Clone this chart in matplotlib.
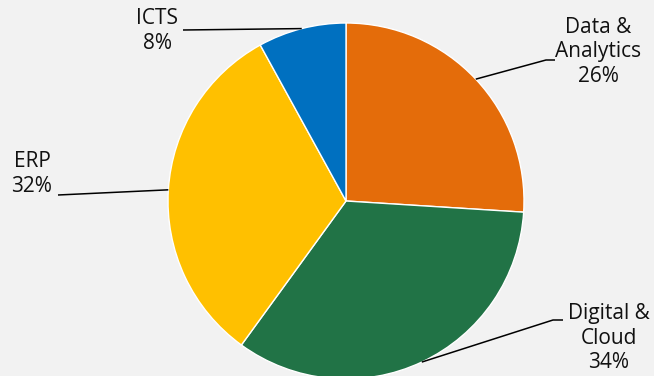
import numpy as np
import matplotlib
matplotlib.use('Agg')
import matplotlib.pyplot as plt

plt.rcParams['font.family'] = ['Open Sans', 'DejaVu Sans']

# data
labels = ['Data &\nAnalytics', 'Digital &\nCloud', 'ERP', 'ICTS']
shares = [26, 34, 32, 8]
colors = ['#E46C0A', '#217346', '#FFC000', '#0070C0']

# layout (pixel space, y up)
W, H = 654, 376
center = (346, H - 201)
radius = 178
# text centre, elbow point (None = straight line to text)
label_pos = [(598, H - 52), (609, H - 338), (32, H - 174), (157, H - 31)]
elbows = [(546, H - 60), (553, H - 320), None, None]
line_ends = [(555, H - 60), (563, H - 320), (58, H - 195), (183, H - 30)]

fig = plt.figure(figsize=(W / 100, H / 100), dpi=100, facecolor='#F2F2F2')
ax = fig.add_axes([0, 0, 1, 1])
ax.set_facecolor('#F2F2F2')

wedges, _ = ax.pie(shares, colors=colors, startangle=90, counterclock=False,
                   center=center, radius=radius, frame=True,
                   wedgeprops=dict(edgecolor='white', linewidth=1))
ax.set_xlim(0, W)
ax.set_ylim(0, H)
ax.set_aspect('equal')
ax.axis('off')

total = sum(shares)
for w, lab, s, tp, el, le in zip(wedges, labels, shares, label_pos, elbows, line_ends):
    mid = np.deg2rad((w.theta1 + w.theta2) / 2)
    ax0 = center[0] + radius * np.cos(mid)
    ay0 = center[1] + radius * np.sin(mid)
    xs, ys = [ax0], [ay0]
    if el is not None:
        xs.append(el[0]); ys.append(el[1])
    xs.append(le[0]); ys.append(le[1])
    ax.plot(xs, ys, color='black', linewidth=1.1, solid_capstyle='butt')
    ax.text(tp[0], tp[1], f'{lab}\n{s / total * 100:.0f}%', ha='center', va='center',
            fontsize=15, color='#111111', linespacing=1.22)

fig.savefig('out.png', dpi=100, facecolor='#F2F2F2')
